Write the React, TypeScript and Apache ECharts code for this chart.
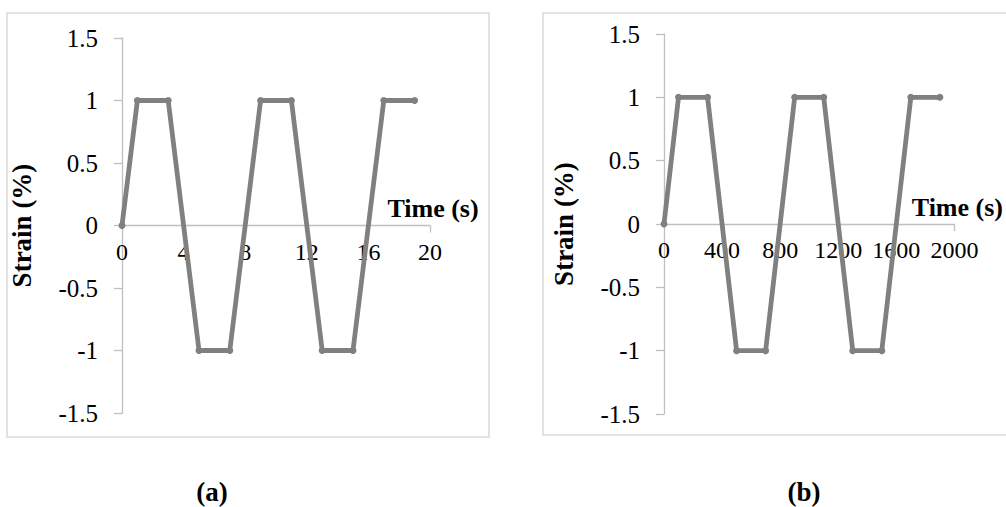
import React, { useEffect, useRef } from "react";
import * as echarts from "echarts";

const strainValues = [0, 1, 1, -1, -1, 1, 1, -1, -1, 1, 1];
const timesA = [0, 1, 3, 5, 7, 9, 11, 13, 15, 17, 19];
const timesB = [0, 100, 300, 500, 700, 900, 1100, 1300, 1500, 1700, 1900];
const yTicks = { min: -1.5, max: 1.5, interval: 0.5 };
const xTicksA = { min: 0, max: 20, interval: 4 };
const xTicksB = { min: 0, max: 2000, interval: 400 };
const panelLabels = ["(a)", "(b)"];
const xName = "Time (s)";
const yName = "Strain (%)";

const FONT = "Liberation Serif";
const AXIS_COLOR = "#bfbfbf";
const LINE_COLOR = "#808080";

export default function App() {
  const ref = useRef<HTMLDivElement>(null);
  useEffect(() => {
    if (!ref.current) return;
    const chart = echarts.init(ref.current, null, { renderer: "svg" });
    const grids = [
      { left: 122, top: 38, width: 308, height: 375 },
      { left: 664, top: 34, width: 295, height: 380 },
    ];
    const labelStyle = (size: number, margin: number) => ({
      color: "#000",
      fontFamily: FONT,
      fontSize: size,
      margin,
      formatter: (v: number) => "{t|" + String(v) + "}",
      rich: {
        t: { fontFamily: FONT, fontSize: size, color: "#000", fontWeight: "normal" },
      },
    });
    const mkX = (idx: number, t: { min: number; max: number; interval: number }) => ({
      type: "value",
      gridIndex: idx,
      min: t.min,
      max: t.max,
      interval: t.interval,
      position: "bottom",
      offset: -grids[idx].height / 2,
      axisLine: { show: true, onZero: false, lineStyle: { color: AXIS_COLOR, width: 1.3 } },
      axisTick: { show: true, customValues: [t.max], length: 7, lineStyle: { color: AXIS_COLOR, width: 1.3 } },
      splitLine: { show: false },
      axisLabel: labelStyle(24, 14),
      name: xName,
      nameLocation: "end",
      nameGap: 3,
      nameTextStyle: {
        color: "#000",
        fontFamily: FONT,
        fontSize: 26,
        fontWeight: "bold",
        align: "center",
        verticalAlign: "bottom",
        padding: [0, 0, 4, 0],
      },
    });
    const mkY = (idx: number) => ({
      type: "value",
      gridIndex: idx,
      min: yTicks.min,
      max: yTicks.max,
      interval: yTicks.interval,
      axisLine: { show: true, onZero: false, lineStyle: { color: AXIS_COLOR, width: 1.3 } },
      axisTick: { show: true, length: 8, lineStyle: { color: AXIS_COLOR, width: 1.3 } },
      splitLine: { show: false },
      axisLabel: labelStyle(25, 24),
      name: yName,
      nameLocation: "middle",
      nameRotate: 90,
      nameGap: 87,
      nameTextStyle: { color: "#000", fontFamily: FONT, fontSize: 27, fontWeight: "bold" },
    });
    const mkSeries = (idx: number, xs: number[]) => ({
      type: "line",
      xAxisIndex: idx,
      yAxisIndex: idx,
      data: xs.map((x, i) => [x, strainValues[i]]),
      symbol: "circle",
      symbolSize: 7,
      showSymbol: true,
      itemStyle: { color: LINE_COLOR },
      lineStyle: { color: LINE_COLOR, width: 4.8, cap: "round", join: "round" },
      silent: true,
    });
    chart.setOption({
      animation: false,
      backgroundColor: "#fff",
      textStyle: { fontFamily: FONT },
      grid: grids,
      xAxis: [mkX(0, xTicksA), mkX(1, xTicksB)],
      yAxis: [mkY(0), mkY(1)],
      series: [mkSeries(0, timesA), mkSeries(1, timesB)],
      graphic: [
        {
          type: "rect",
          shape: { x: 7, y: 13, width: 482, height: 424 },
          style: { fill: "none", stroke: "#d9d9d9", lineWidth: 1.5 },
          z: -1,
        },
        {
          type: "rect",
          shape: { x: 543, y: 13, width: 480, height: 422 },
          style: { fill: "none", stroke: "#d9d9d9", lineWidth: 1.5 },
          z: -1,
        },
        {
          type: "text",
          x: 212,
          y: 492,
          style: {
            text: panelLabels[0],
            fill: "#000",
            font: `bold 27px ${FONT}`,
            align: "center",
            verticalAlign: "middle",
          },
        },
        {
          type: "text",
          x: 804,
          y: 492,
          style: {
            text: panelLabels[1],
            fill: "#000",
            font: `bold 27px ${FONT}`,
            align: "center",
            verticalAlign: "middle",
          },
        },
      ],
    });
    return () => chart.dispose();
  }, []);
  return (
    <div
      ref={ref}
      style={{ position: "fixed", left: 0, top: 0, width: 1006, height: 507, background: "#fff" }}
    />
  );
}
